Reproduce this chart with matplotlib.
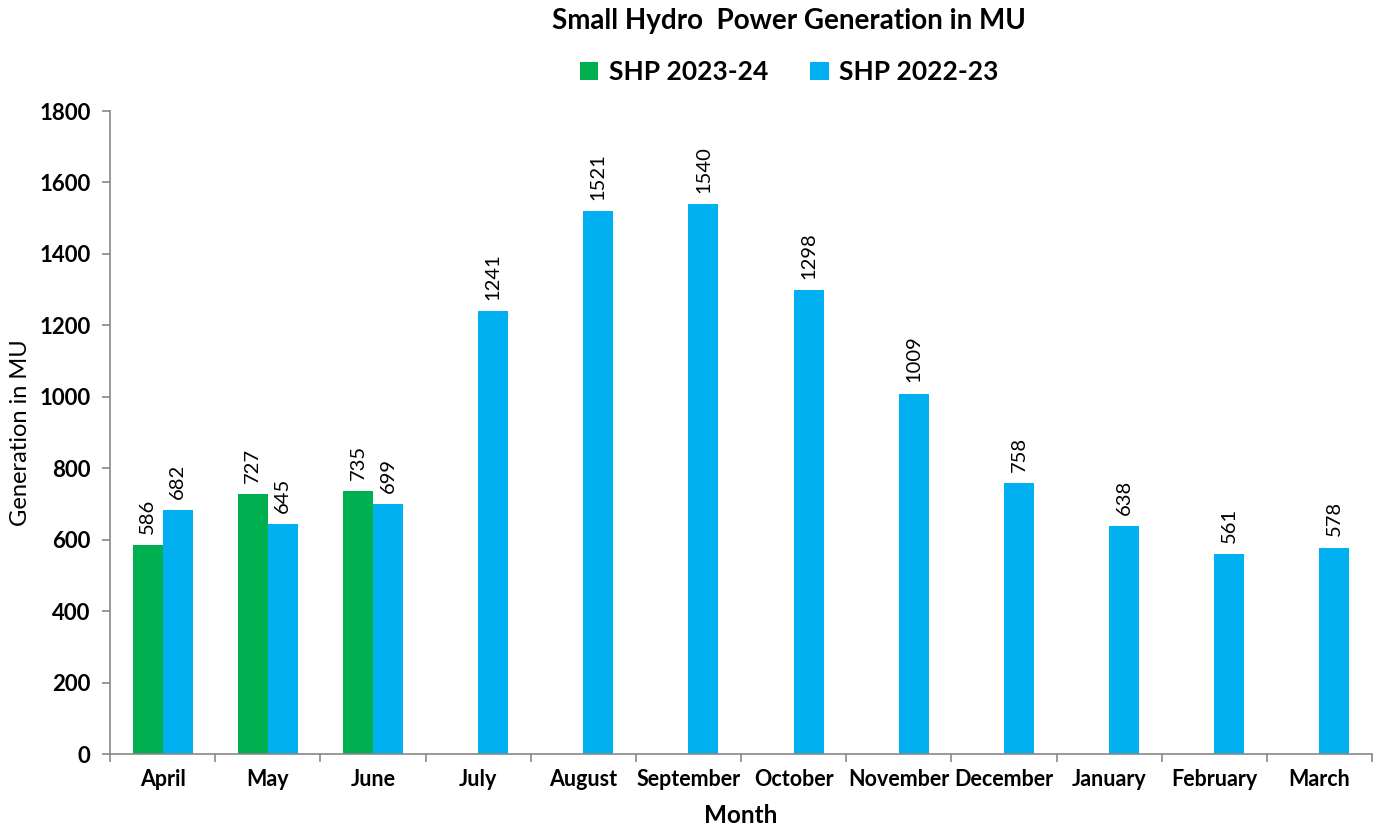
import matplotlib
matplotlib.use('Agg')

import numpy as np
import matplotlib.pyplot as plt

months = ['April', 'May', 'June', 'July', 'August', 'September', 'October',
          'November', 'December', 'January', 'February', 'March']
shp_2023_24 = [586, 727, 735, None, None, None, None, None, None, None, None, None]
shp_2022_23 = [682, 645, 699, 1241, 1521, 1540, 1298, 1009, 758, 638, 561, 578]

plt.rcParams['font.family'] = ['Lato', 'DejaVu Sans']

fig = plt.figure(figsize=(13.82, 8.33), dpi=100)
ax = fig.add_axes([0.0796, 0.0948, 0.9132, 0.7719])

x = np.arange(len(months))
w = 0.285
green = np.array([np.nan if v is None else v for v in shp_2023_24], dtype=float)
blue = np.array(shp_2022_23, dtype=float)

ax.bar(x - w / 2, green, w, color='#00b050', label='SHP 2023-24')
ax.bar(x + w / 2, blue, w, color='#00b0f0', label='SHP 2022-23')

# data labels above the bars, rotated like Excel does
for xi, v in zip(x, green):
    if not np.isnan(v):
        ax.annotate(f'{int(v)}', (xi - w / 2, v), xytext=(0, 8), textcoords='offset points',
                    rotation=90, ha='center', va='bottom', fontsize=14.5)
for xi, v in zip(x, blue):
    ax.annotate(f'{int(v)}', (xi + w / 2, v), xytext=(0, 8), textcoords='offset points',
                rotation=90, ha='center', va='bottom', fontsize=14.5)

ax.set_xlim(-0.5, len(months) - 0.5)
ax.set_ylim(0, 1800)
ax.set_yticks(np.arange(0, 1801, 200))
ax.set_xticks(x)
ax.set_xticklabels(months, fontsize=15.5, fontweight='bold')
ax.set_xticks(np.arange(-0.5, len(months), 1), minor=True)
ax.tick_params(axis='x', which='major', length=0, pad=11)
ax.tick_params(axis='x', which='minor', length=6, color='#888888', width=1.2)
ax.tick_params(axis='y', length=6, color='#888888', width=1.2, labelsize=16, pad=8)
for lab in ax.get_yticklabels():
    lab.set_fontweight('bold')

for s in ['top', 'right']:
    ax.spines[s].set_visible(False)
for s in ['left', 'bottom']:
    ax.spines[s].set_color('#888888')
    ax.spines[s].set_linewidth(1.2)

ax.set_xlabel('Month', fontsize=17.5, fontweight='bold', labelpad=10)
ax.set_ylabel('Generation in MU', fontsize=17, labelpad=6)

fig.text(0.571, 0.975, 'Small Hydro  Power Generation in MU', ha='center', va='center',
         fontsize=20, fontweight='bold')
fig.legend(loc='center', bbox_to_anchor=(0.571, 0.913), ncol=2, frameon=False,
           prop={'size': 19, 'weight': 'bold'}, handlelength=0.7, handleheight=0.7,
           columnspacing=1.6, handletextpad=0.4)

fig.savefig('out.png', dpi=100)
